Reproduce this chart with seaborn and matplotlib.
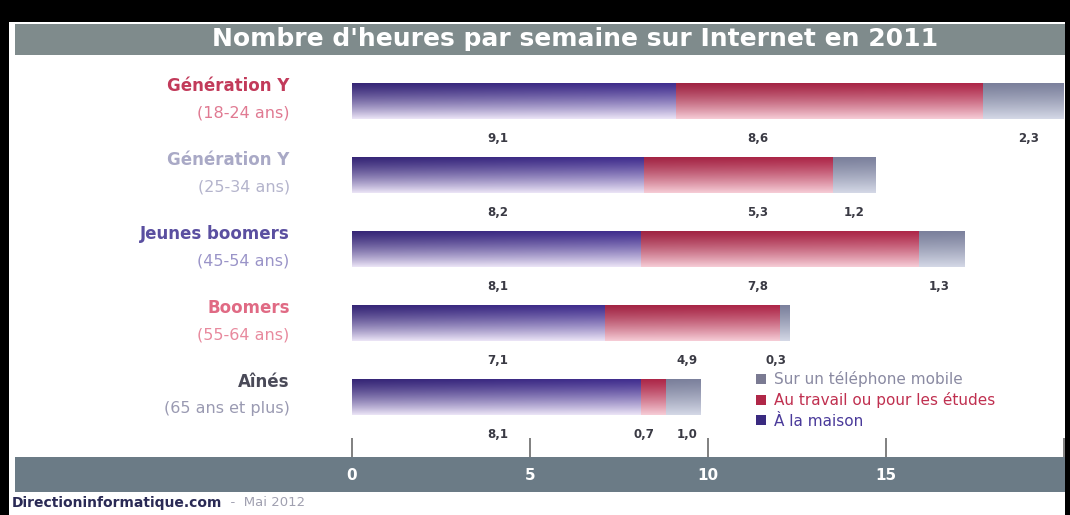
import numpy as np
import pandas as pd
import matplotlib
matplotlib.use("Agg")
import matplotlib.pyplot as plt
import seaborn as sns
from matplotlib.colors import to_rgb
from matplotlib.patches import Rectangle, Patch

# ---------------- data ----------------
groups = ["Génération Y", "Génération Y", "Jeunes boomers", "Boomers", "Aînés"]
ages = ["(18-24 ans)", "(25-34 ans)", "(45-54 ans)", "(55-64 ans)", "(65 ans et plus)"]
home = [9.1, 8.2, 8.1, 7.1, 8.1]
work = [8.6, 5.3, 7.8, 4.9, 0.7]
mobile = [2.3, 1.2, 1.3, 0.3, 1.0]
series_labels = ["Sur un téléphone mobile", "Au travail ou pour les études", "À la maison"]
title = "Nombre d'heures par semaine sur Internet en 2011"
xticks = [0, 5, 10, 15, 20]
xtick_labels = ["0", "5", "10", "15", ""]
source = "Directioninformatique.com"
date = "  -  Mai 2012"

# layout of the value labels (x position in hours, as in the original design)
home_label_x = [4.1, 4.1, 4.1, 4.1, 4.1]
work_label_x = [11.4, 11.4, 11.4, 9.4, 8.2]
mobile_label_x = [19.0, 14.1, 16.5, 11.9, 9.4]

# ---------------- style ----------------
sns.set_theme(style="white")
plt.rcParams["font.family"] = ["DejaVu Sans"]

W, H = 1070, 515
fig = plt.figure(figsize=(W / 100, H / 100), dpi=100)
fig.patch.set_facecolor("black")

def fx(px):
    return px / W

def fy(py):
    return 1 - py / H

# white page
fig.add_artist(Rectangle((fx(9), 0), fx(1065 - 9), fy(22), transform=fig.transFigure,
                         facecolor="white", edgecolor="none", zorder=0))

# main axes: x 0..20 maps 352..1064 px ; rows 64..434 px
ax = fig.add_axes([fx(352), fy(434), fx(1064 - 352), (434 - 64) / H])
ax.set_facecolor("none")

df = pd.DataFrame({
    "cat": [g + " " + a for g, a in zip(groups, ages)],
    "home": home,
    "home_work": np.array(home) + np.array(work),
    "total": np.array(home) + np.array(work) + np.array(mobile),
})

sns.barplot(data=df, y="cat", x="total", orient="h", color="#8a8fa8", width=0.5,
            ax=ax, linewidth=0)
sns.barplot(data=df, y="cat", x="home_work", orient="h", color="#c03050", width=0.5,
            ax=ax, linewidth=0)
sns.barplot(data=df, y="cat", x="home", orient="h", color="#4a3a9a", width=0.5,
            ax=ax, linewidth=0)

grads = [
    ("#7b809c", "#d4d8e6"),   # mobile
    ("#ad2547", "#f6ccd6"),   # work
    ("#3f2c8e", "#ebe4f6"),   # home
]

def gradient_img(top, bottom, h=60, w=80, dark=0.18):
    t = np.linspace(0, 1, h)[:, None, None] ** 1.2
    top = np.array(to_rgb(top))[None, None, :]
    bot = np.array(to_rgb(bottom))[None, None, :]
    img = top * (1 - t) + bot * t
    img = np.repeat(img, w, axis=1)
    s = np.linspace(0, 1, w)[None, :, None]
    img = img * (1 - dark * (1 - s) * (1 - t))
    return np.clip(img, 0, 1)

for cont, (ct, cb) in zip(ax.containers, grads):
    for p in cont.patches:
        x0, y0 = p.get_x(), p.get_y()
        w, h = p.get_width(), p.get_height()
        if w <= 0:
            continue
        img = gradient_img(ct, cb)
        im = ax.imshow(img, extent=(x0, x0 + w, y0 + h, y0), origin="upper",
                       aspect="auto", zorder=p.get_zorder() + 0.1, interpolation="bilinear")
        im.set_clip_path(p)
        p.set_facecolor("none")
        p.set_edgecolor("none")

ax.set_xlim(0, 20)
ax.set_ylim(4.5, -0.5)
ax.set_axis_off()

# value labels below bars
for i in range(len(groups)):
    xs = [home_label_x[i], work_label_x[i], mobile_label_x[i]]
    vals = [home[i], work[i], mobile[i]]
    for xv, v in zip(xs, vals):
        ax.text(xv, i + 0.5, f"{v:.1f}".replace(".", ","), ha="center", va="center",
                fontsize=8.5, fontweight="bold", color="#3a3a44", clip_on=False)

# category labels
name_colors = ["#c23a5a", "#a9a9c6", "#5a4fa0", "#e06a84", "#4a4a58"]
age_colors = ["#e07a92", "#b4b4cc", "#9a94c8", "#e88a9e", "#9a9ab2"]
for i, (g, a) in enumerate(zip(groups, ages)):
    ax.text(-1.75, i - 0.2, g, ha="right", va="center", fontsize=12,
            fontweight="bold", color=name_colors[i], clip_on=False)
    ax.text(-1.75, i + 0.16, a, ha="right", va="center", fontsize=11.5,
            color=age_colors[i], clip_on=False)

# legend
handles = [Patch(facecolor=c, edgecolor="none") for c in ["#7a7a92", "#b02848", "#3a2a80"]]
leg = fig.legend(handles, series_labels, loc="upper left",
                 bbox_to_anchor=(fx(756), fy(371)), frameon=False, fontsize=11,
                 handlelength=0.65, handleheight=0.65, handletextpad=0.5,
                 labelspacing=0.35, borderaxespad=0, borderpad=0)
for t, c in zip(leg.get_texts(), ["#8a8aa2", "#c03050", "#4a3a9a"]):
    t.set_color(c)

# title band
fig.add_artist(Rectangle((fx(15), fy(55)), fx(1065 - 15), (55 - 24) / H,
                         transform=fig.transFigure, facecolor="#7f8b8c",
                         edgecolor="none", zorder=1))
fig.text(fx(575), fy(39), title, ha="center", va="center", fontsize=18,
         fontweight="bold", color="white", zorder=2)

# axis band (bottom scale)
axb = fig.add_axes([fx(15), fy(492), fx(1065 - 15), (492 - 457) / H])
axb.set_facecolor("#6b7b86")
x_left = (15 - 352) / 35.6
x_right = 20 + (1065 - 1064) / 35.6
axb.set_xlim(x_left, x_right)
axb.set_ylim(0, 1)
axb.set_yticks([])
axb.set_xticks(xticks, labels=xtick_labels)
axb.tick_params(axis="x", top=True, bottom=False, labeltop=False, labelbottom=True,
                direction="out", length=14, width=1.4, color="#808080",
                pad=-31, labelcolor="white", labelsize=11)
for lbl in axb.get_xticklabels():
    lbl.set_fontweight("bold")
for s in axb.spines.values():
    s.set_visible(False)

# footer
t1 = fig.text(fx(12), fy(503), source, ha="left", va="center", fontsize=10,
              fontweight="bold", color="#2a2a55")
fig.canvas.draw()
bb = t1.get_window_extent()
fig.text(bb.x1 / W, fy(503), date, ha="left", va="center", fontsize=9.5, color="#a0a0b0")

fig.savefig("out.png", dpi=100, facecolor=fig.get_facecolor())
